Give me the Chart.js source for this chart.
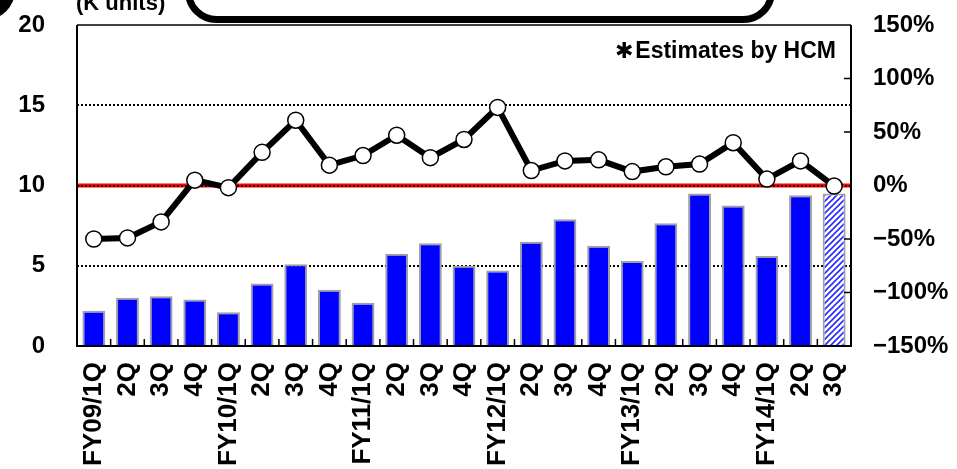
<!DOCTYPE html>
<html>
<head>
<meta charset="UTF-8">
<title>Quarterly units and YoY growth</title>
<script src="https://cdn.jsdelivr.net/npm/chart.js@4"></script>
<style>
  body { margin: 0; background: #fff; }
  #wrap { position: relative; width: 957px; height: 469px; overflow: hidden; }
  #chart { position: absolute; left: 0; top: 0; }
  #dot { position: absolute; left: -45px; top: -40px; width: 60px; height: 60px; border-radius: 50%; background: #000; }
  #units { position: absolute; left: 76px; top: -8px; font: bold 22px "Liberation Sans", Arial, sans-serif; line-height: 22px; color: #000; white-space: nowrap; }
  #box { position: absolute; left: 185px; top: -40px; width: 590px; height: 63px; box-sizing: border-box;
         border: 7px solid #000; border-radius: 32px; background: #fff; }
  #note { position: absolute; right: 121px; top: 39px; font: bold 23px "Liberation Sans", Arial, sans-serif; line-height: 23px; color: #000; white-space: nowrap; }
  #note span { font-family: "DejaVu Sans", sans-serif; font-size: 22px; margin-right: 2px; }
</style>
</head>
<body>
<div id="wrap">
  <canvas id="chart" width="957" height="469"></canvas>
  <div id="dot"></div>
  <div id="units">(K units)</div>
  <div id="box"></div>
  <div id="note"><span>✱</span>Estimates by HCM</div>
</div>

<script>
  // quarters, FY09/1Q .. FY14/3Q
  const quarters = ['FY09/1Q', '2Q', '3Q', '4Q',
                    'FY10/1Q', '2Q', '3Q', '4Q',
                    'FY11/1Q', '2Q', '3Q', '4Q',
                    'FY12/1Q', '2Q', '3Q', '4Q',
                    'FY13/1Q', '2Q', '3Q', '4Q',
                    'FY14/1Q', '2Q', '3Q'];
  // units shipped (K units), left axis
  const units = [2.2, 3.0, 3.1, 2.9, 2.1, 3.9, 5.1, 3.5, 2.7, 5.75, 6.4, 5.0,
                 4.7, 6.5, 7.9, 6.25, 5.3, 7.65, 9.5, 8.75, 5.6, 9.4, 9.5];
  // YoY growth (%), right axis
  const growth = [-50, -49, -34, 5, -2, 31, 61, 19, 28, 47, 26, 43,
                  73, 14, 23, 24, 13, 17.5, 20, 40, 6, 23, -0.5];
  // last quarter is an estimate
  const estimated = quarters.map((q, i) => i === quarters.length - 1);

  const leftTicks = [0, 5, 10, 15, 20];
  const rightTicks = [-150, -100, -50, 0, 50, 100, 150];

  const tickFont = { family: '"Liberation Sans", Arial, sans-serif', size: 24, weight: 'bold' };
  const xFont = { family: '"Liberation Sans", Arial, sans-serif', size: 26, weight: 'bold' };

  function hatch() {
    const c = document.createElement('canvas');
    c.width = 6; c.height = 6;
    const g = c.getContext('2d');
    g.fillStyle = '#fff';
    g.fillRect(0, 0, 6, 6);
    g.strokeStyle = '#2a2aff';
    g.lineWidth = 1.6;
    g.beginPath();
    g.moveTo(-1, 7); g.lineTo(7, -1);
    g.moveTo(-4, 4); g.lineTo(4, -4);
    g.moveTo(2, 10); g.lineTo(10, 2);
    g.stroke();
    return g.createPattern(c, 'repeat');
  }
  const hatchFill = hatch();

  const framePlugin = {
    id: 'frame',
    beforeDraw(chart) {
      const { ctx, chartArea: a, scales } = chart;
      const y = scales.y.getPixelForValue(10);
      ctx.save();
      ctx.strokeStyle = '#ff0000';
      ctx.lineWidth = 4;
      ctx.beginPath();
      ctx.moveTo(a.left, y);
      ctx.lineTo(a.right, y);
      ctx.stroke();
      ctx.restore();
    },
    afterDatasetsDraw(chart) {
      const { ctx, chartArea: a, scales } = chart;
      ctx.save();
      ctx.strokeStyle = '#000';
      // top
      ctx.lineWidth = 1.5;
      ctx.beginPath();
      ctx.moveTo(a.left, a.top);
      ctx.lineTo(a.right, a.top);
      ctx.stroke();
      // left, right, bottom
      ctx.lineWidth = 2;
      ctx.beginPath();
      ctx.moveTo(a.left, a.top);
      ctx.lineTo(a.left, a.bottom);
      ctx.lineTo(a.right, a.bottom);
      ctx.lineTo(a.right, a.top);
      ctx.stroke();
      // category ticks, pointing in
      ctx.lineWidth = 1.5;
      ctx.beginPath();
      for (let i = 1; i < quarters.length; i++) {
        const x = (scales.x.getPixelForValue(i - 1) + scales.x.getPixelForValue(i)) / 2;
        ctx.moveTo(x, a.bottom);
        ctx.lineTo(x, a.bottom - 7);
      }
      // right axis ticks
      rightTicks.forEach(v => {
        if (v === 150 || v === -150 || v === 0) return;
        const y = scales.y1.getPixelForValue(v);
        ctx.moveTo(a.right, y);
        ctx.lineTo(a.right - 7, y);
      });
      ctx.stroke();
      ctx.restore();
    }
  };

  function noPad(s) {
    s.paddingTop = 0; s.paddingBottom = 0;
    s.paddingLeft = 0; s.paddingRight = 0;
  }

  new Chart(document.getElementById('chart'), {
    data: {
      labels: quarters,
      datasets: [
        {
          type: 'line',
          label: 'Growth',
          data: growth,
          yAxisID: 'y1',
          borderColor: '#000',
          borderWidth: 6,
          pointRadius: 8,
          pointBackgroundColor: '#fff',
          pointBorderColor: '#000',
          pointBorderWidth: 1.5,
          tension: 0,
          order: 0
        },
        {
          type: 'bar',
          label: 'Units',
          data: units,
          yAxisID: 'y',
          backgroundColor: estimated.map(e => e ? hatchFill : '#0000ff'),
          borderColor: '#a0a0a0',
          borderWidth: 2,
          categoryPercentage: 1,
          barPercentage: 0.68,
          order: 1
        }
      ]
    },
    options: {
      responsive: false,
      animation: false,
      devicePixelRatio: 1,
      layout: { padding: { top: 25, left: 0, right: 0, bottom: 0 } },
      plugins: { legend: { display: false }, tooltip: { enabled: false } },
      scales: {
        x: {
          offset: true,
          grid: { display: false },
          border: { display: false },
          ticks: {
            autoSkip: false,
            minRotation: 90,
            maxRotation: 90,
            padding: 8,
            color: '#000',
            font: xFont
          },
          afterFit(s) { s.height = 123; noPad(s); }
        },
        y: {
          position: 'left',
          min: 0,
          max: 20,
          afterBuildTicks(s) { s.ticks = leftTicks.map(v => ({ value: v })); },
          grid: {
            drawTicks: false,
            color: ctx => (ctx.tick && (ctx.tick.value === 0 || ctx.tick.value === 20)) ? 'rgba(0,0,0,0)' : '#000',
            lineWidth: 2
          },
          border: { display: false, dash: [2, 2] },
          ticks: { padding: 32, color: '#000', font: tickFont },
          afterFit(s) { s.width = 77; noPad(s); }
        },
        y1: {
          position: 'right',
          min: -150,
          max: 150,
          afterBuildTicks(s) { s.ticks = rightTicks.map(v => ({ value: v })); },
          grid: { display: false, drawTicks: false },
          border: { display: false },
          ticks: {
            padding: 22,
            color: '#000',
            font: tickFont,
            callback: v => (v < 0 ? '\u2212' + Math.abs(v) : v) + '%'
          },
          afterFit(s) { s.width = 106; noPad(s); }
        }
      }
    },
    plugins: [framePlugin]
  });
</script>
</body>
</html>
